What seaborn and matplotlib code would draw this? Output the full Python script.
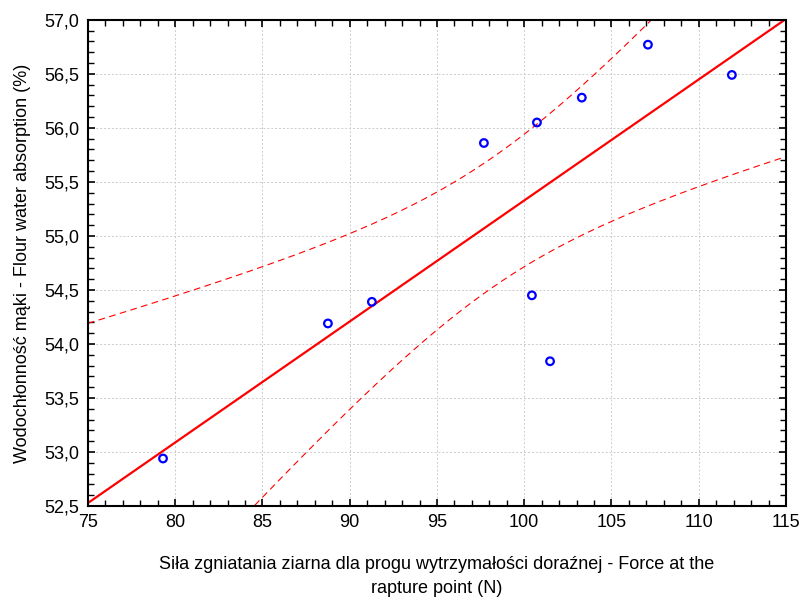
"""Scatter plot with linear fit and 95% confidence band (force vs water absorption)."""

import numpy as np
import pandas as pd
import matplotlib
matplotlib.use("Agg")
import matplotlib.pyplot as plt
from matplotlib.ticker import MultipleLocator, FuncFormatter
import seaborn as sns

# Data
force = [79.3, 88.75, 91.27, 97.69, 100.73, 100.44, 101.48, 103.3, 107.09, 111.9]
absorption = [52.94, 54.19, 54.39, 55.86, 56.05, 54.45, 53.84, 56.28, 56.77, 56.49]

x_ticks = [75, 80, 85, 90, 95, 100, 105, 110, 115]
y_ticks = [52.5, 53.0, 53.5, 54.0, 54.5, 55.0, 55.5, 56.0, 56.5, 57.0]

x_label = "Siła zgniatania ziarna dla progu wytrzymałości doraźnej - Force at the\nrapture point (N)"
y_label = "Wodochłonność mąki - Flour water absorption (%)"

sns.set_theme(style="white")
plt.rcParams['font.family'] = ['Liberation Sans Narrow', 'Liberation Sans', 'DejaVu Sans']
plt.rcParams['text.color'] = 'black'
plt.rcParams['axes.labelcolor'] = 'black'

df = pd.DataFrame({"force": force, "absorption": absorption})

# Least squares fit and 95% confidence band for the mean
x = np.asarray(force)
y = np.asarray(absorption)
n = len(x)
slope, intercept = np.polyfit(x, y, 1)
resid = y - (intercept + slope * x)
s = np.sqrt(np.sum(resid ** 2) / (n - 2))
sxx = np.sum((x - x.mean()) ** 2)
t_crit = 2.306  # t(0.975, df=8)

xs = np.linspace(x_ticks[0], x_ticks[-1], 200)
fit = intercept + slope * xs
se = s * np.sqrt(1.0 / n + (xs - x.mean()) ** 2 / sxx)
band = pd.DataFrame({"x": xs, "fit": fit, "lo": fit - t_crit * se, "hi": fit + t_crit * se})

fig = plt.figure(figsize=(8.02, 6.01), dpi=100)
ax = fig.add_axes([0.1097, 0.158, 0.8703, 0.809])

sns.lineplot(data=band, x="x", y="fit", color="red", linewidth=1.6, ax=ax)
sns.lineplot(data=band, x="x", y="lo", color="red", linewidth=0.8, ax=ax,
             linestyle=(0, (6, 4)))
sns.lineplot(data=band, x="x", y="hi", color="red", linewidth=0.8, ax=ax,
             linestyle=(0, (6, 4)))
sns.scatterplot(data=df, x="force", y="absorption", ax=ax, s=30,
                facecolor="none", edgecolor="#0000ff", linewidth=1.6, zorder=5)

ax.set_xlim(x_ticks[0], x_ticks[-1])
ax.set_ylim(y_ticks[0], y_ticks[-1])
ax.set_xticks(x_ticks)
ax.set_yticks(y_ticks)
ax.xaxis.set_minor_locator(MultipleLocator(1))
ax.yaxis.set_minor_locator(MultipleLocator(0.1))
ax.yaxis.set_major_formatter(FuncFormatter(lambda v, p: f"{v:.1f}".replace(".", ",")))

ax.tick_params(which="both", direction="in", top=True, right=True, bottom=True, left=True,
               color="black", labelcolor="black", labelsize=13, width=1.2)
ax.tick_params(which="major", length=5, pad=6)
ax.tick_params(which="minor", length=4, width=1.0)

ax.grid(True, which="major", linestyle=(0, (2, 2)), color="#cccccc", linewidth=0.7)
for spine in ax.spines.values():
    spine.set_color("black")
    spine.set_linewidth(1.5)

ax.set_xlabel(x_label, fontsize=13, labelpad=18, linespacing=1.5)
ax.set_ylabel(y_label, fontsize=13, labelpad=10)

fig.savefig("out.png", dpi=100)
